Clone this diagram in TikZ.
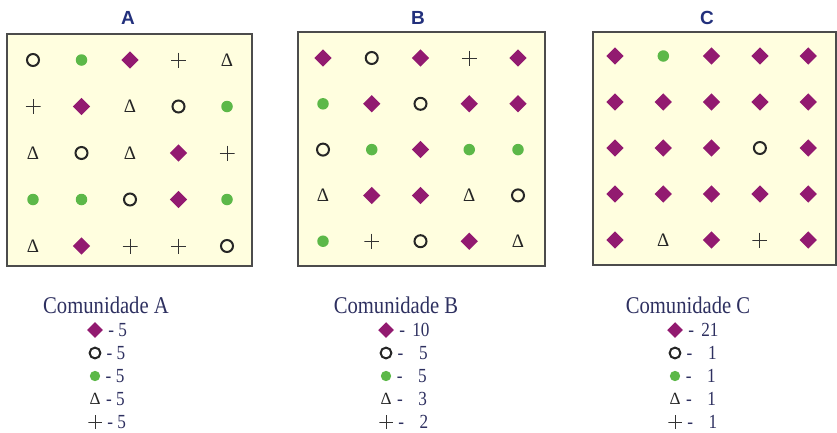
\documentclass[tikz,border=0pt]{standalone}
\usepackage{fontspec}
\setmainfont{Liberation Serif}
\newfontfamily\headfont{Liberation Sans}
\newfontfamily\legfont[FakeStretch=0.86]{Liberation Serif}
\usepackage{xcolor}
\definecolor{plum}{HTML}{921A70}
\definecolor{leaf}{HTML}{5CB848}
\definecolor{pale}{HTML}{FFFEDF}
\definecolor{navy}{HTML}{22307C}
\definecolor{ink}{HTML}{2E3060}
\usetikzlibrary{shapes.geometric,positioning}

\begin{document}
\begin{tikzpicture}[x=1pt,y=-1pt,semithick]
  \tikzstyle{dia}=[diamond,fill=plum,inner sep=0pt,minimum size=17.5pt,node contents={}]
  \tikzstyle{dot}=[circle,fill=leaf,inner sep=0pt,minimum size=11.5pt,node contents={}]
  \tikzstyle{ring}=[circle,draw=black!85,line width=2pt,inner sep=0pt,minimum size=12pt,node contents={}]
  \tikzstyle{tri}=[inner sep=0pt,text=black!85,font=\fontsize{19}{19}\selectfont,node contents={Δ}]
  \tikzstyle{crs}=[inner sep=0pt,minimum size=15pt,node contents={},
                 path picture={\draw[black!80,line width=0.9pt]
                   (path picture bounding box.north) -- (path picture bounding box.south)
                   (path picture bounding box.west) -- (path picture bounding box.east);}]
  \tikzstyle{plotbox}=[draw=black!70,line width=1.6pt,fill=pale,inner sep=0pt]
  \tikzstyle{headtxt}=[text=navy,font=\headfont\bfseries\fontsize{19}{19}\selectfont]
  \tikzstyle{commtxt}=[text=ink,font=\legfont\fontsize{24}{24}\selectfont]
  \tikzstyle{keysym}=[scale=0.9]
  \tikzstyle{numtxt}=[text=ink,font=\legfont\fontsize{20}{20}\selectfont,inner sep=0pt]

  \useasboundingbox (0,0) rectangle (837,432);

  % the three plots
  \node[plotbox,minimum width=245pt,minimum height=232pt] (plotA) at (129.5,150) {};
  \node[plotbox,minimum width=247pt,minimum height=234pt] (plotB) at (421.5,149) {};
  \node[plotbox,minimum width=243pt,minimum height=233pt] (plotC) at (714.5,148.5) {};

  \node[headtxt] (hA) at (128,18) {A};
  \node[headtxt] (hB) at (418,18) {B};
  \node[headtxt] (hC) at (707,18) {C};

  % individuals, row by row
  \foreach \s [count=\i from 0] in {ring,dot,dia,crs,tri, crs,dia,tri,ring,dot, tri,ring,tri,dia,crs,
                                    dot,dot,ring,dia,dot, tri,dia,crs,crs,ring}
    \node (a\i) at ({33+48.5*mod(\i,5)},{60+46.5*floor(\i/5)}) [\s];
  \foreach \s [count=\i from 0] in {dia,ring,dia,crs,dia, dot,dia,ring,dia,dia, ring,dot,dia,dot,dot,
                                    tri,dia,dia,tri,ring, dot,crs,ring,dia,tri}
    \node (b\i) at ({323+48.75*mod(\i,5)},{58+45.8*floor(\i/5)}) [\s];
  \foreach \s [count=\i from 0] in {dia,dot,dia,dia,dia, dia,dia,dia,dia,dia, dia,dia,dia,ring,dia,
                                    dia,dia,dia,dia,dia, dia,tri,dia,crs,dia}
    \node (c\i) at ({615+48.3*mod(\i,5)},{56+46*floor(\i/5)}) [\s];

  % legends
  \node[commtxt] (capA) at (106,305) {Comunidade A};
  \node[commtxt] (capB) at (396,305) {Comunidade B};
  \node[commtxt] (capC) at (688,305) {Comunidade C};

  \foreach \s/\n [count=\j] in {dia/5,ring/5,dot/5,tri/5,crs/5} {
    \node (kA\j) at (95,{307+23*\j}) [\s,keysym];
    \node[numtxt,right=5pt of kA\j] (nA\j) {- \n};
  }
  \foreach \s/\n [count=\j] in {dia/10,ring/5,dot/5,tri/3,crs/2} {
    \node (kB\j) at (386,{307+23*\j}) [\s,keysym];
    \node[numtxt,right=5pt of kB\j] (nB\j) {- \makebox[1em][r]{\n}};
  }
  \foreach \s/\n [count=\j] in {dia/21,ring/1,dot/1,tri/1,crs/1} {
    \node (kC\j) at (675,{307+23*\j}) [\s,keysym];
    \node[numtxt,right=5pt of kC\j] (nC\j) {- \makebox[1em][r]{\n}};
  }
\end{tikzpicture}
\end{document}
